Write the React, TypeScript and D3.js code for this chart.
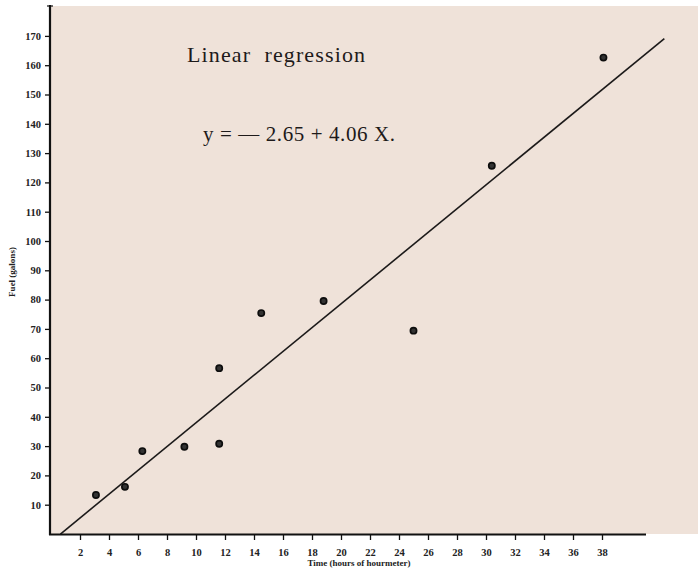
import { useEffect, useRef } from "react";
import * as d3 from "d3";

// hours of hourmeter
const hours = [3.1, 5.1, 6.3, 9.2, 11.6, 11.6, 14.5, 18.8, 25.0, 30.4, 38.1];
// fuel used (gallons)
const fuel = [13.3, 16.1, 28.3, 29.8, 56.6, 30.8, 75.4, 79.5, 69.4, 125.7, 162.6];

const xTicks = [2, 4, 6, 8, 10, 12, 14, 16, 18, 20, 22, 24, 26, 28, 30, 32, 34, 36, 38];
const yTicks = [10, 20, 30, 40, 50, 60, 70, 80, 90, 100, 110, 120, 130, 140, 150, 160, 170];

const intercept = -2.65;
const slope = 4.06;
const lineRange = [0.65, 42.3];

const App: React.FC = () => {
  const ref = useRef<SVGSVGElement>(null);

  useEffect(() => {
    if (!ref.current) return;
    const width = 698;
    const height = 572;

    const svg = d3.select(ref.current)
      .attr("width", width)
      .attr("height", height);
    svg.selectAll("*").remove();

    const x = d3.scaleLinear().domain([0, 10]).range([51, 196]);
    const y = d3.scaleLinear().domain([0, 10]).range([534, 504.7]);

    const serif = "'Liberation Serif', 'DejaVu Serif', serif";

    svg.append("rect").attr("width", width).attr("height", height).attr("fill", "#ffffff");
    // paper
    svg.append("rect")
      .attr("x", 50).attr("y", 6)
      .attr("width", width - 50).attr("height", 528)
      .attr("fill", "#efe2d9");

    // regression line
    const line = d3.line<number>()
      .x(d => x(d))
      .y(d => y(intercept + slope * d));
    svg.append("path")
      .datum(lineRange)
      .attr("fill", "none")
      .attr("stroke", "#1c1a1a")
      .attr("stroke-width", 1.6)
      .attr("d", line);

    // data points
    const pts = hours.map((h, i) => ({ h, f: fuel[i] }));
    svg.append("g").selectAll("circle")
      .data(pts)
      .join("circle")
      .attr("cx", d => x(d.h))
      .attr("cy", d => y(d.f))
      .attr("r", 3.1)
      .attr("fill", "#333")
      .attr("stroke", "#0d0d0d")
      .attr("stroke-width", 1.7);

    // y axis
    const yAxis = svg.append("g")
      .attr("transform", "translate(50,0)")
      .call(d3.axisLeft(y).tickValues(yTicks).tickSize(5).tickPadding(4).tickFormat(d3.format("d")));
    yAxis.select(".domain").remove();
    yAxis.selectAll("line").attr("stroke", "#111").attr("stroke-width", 1.3);
    yAxis.selectAll("text")
      .attr("font-family", serif).attr("font-weight", "bold")
      .attr("font-size", 10.5).attr("fill", "#222");

    svg.append("line")
      .attr("x1", 50).attr("x2", 50)
      .attr("y1", 5).attr("y2", 535)
      .attr("stroke", "#111").attr("stroke-width", 2.2);
    svg.append("line")
      .attr("x1", 47).attr("x2", 53)
      .attr("y1", 6).attr("y2", 6)
      .attr("stroke", "#111").attr("stroke-width", 1.2);

    // x axis
    const xAxis = svg.append("g")
      .attr("transform", "translate(0,535)")
      .call(d3.axisBottom(x).tickValues(xTicks).tickSize(5).tickPadding(9).tickFormat(d3.format("d")));
    xAxis.select(".domain").remove();
    xAxis.selectAll("line").attr("stroke", "#111").attr("stroke-width", 1.3);
    xAxis.selectAll("text")
      .attr("font-family", serif).attr("font-weight", "bold")
      .attr("font-size", 10.5).attr("fill", "#222");

    svg.append("line")
      .attr("x1", 49).attr("x2", 646)
      .attr("y1", 534.5).attr("y2", 534.5)
      .attr("stroke", "#111").attr("stroke-width", 2.2);

    // axis titles
    svg.append("text")
      .attr("x", 359).attr("y", 566)
      .attr("text-anchor", "middle")
      .attr("font-family", serif).attr("font-weight", "bold")
      .attr("font-size", 9).attr("fill", "#222")
      .text("Time (hours of hourmeter)");

    svg.append("text")
      .attr("transform", "translate(15,272) rotate(-90)")
      .attr("text-anchor", "middle")
      .attr("font-family", serif).attr("font-weight", "bold")
      .attr("font-size", 9).attr("fill", "#222")
      .text("Fuel (galons)");

    // annotations
    svg.append("text")
      .attr("x", 187).attr("y", 62)
      .attr("font-family", serif)
      .attr("font-size", 22).attr("fill", "#1e1a1a")
      .attr("textLength", 178)
      .attr("xml:space", "preserve")
      .text("Linear  regression");

    svg.append("text")
      .attr("x", 203).attr("y", 141)
      .attr("font-family", serif)
      .attr("font-size", 21).attr("fill", "#1e1a1a")
      .attr("textLength", 192)
      .text("y = — 2.65 + 4.06 X.");
  }, []);

  return <svg ref={ref} style={{ position: "absolute", left: 0, top: 0 }} />;
};

export default App;
